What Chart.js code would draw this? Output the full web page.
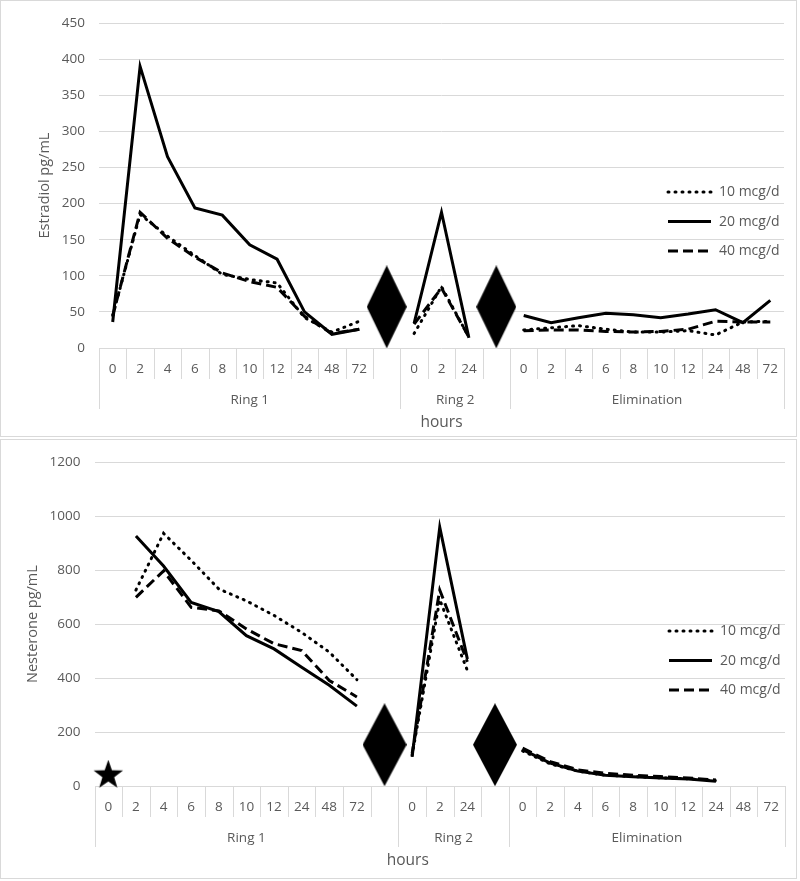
<!DOCTYPE html>
<html>
<head>
<meta charset="utf-8">
<script src="https://cdn.jsdelivr.net/npm/chart.js@4.4.1/dist/chart.umd.min.js"></script>
<style>
  body { margin: 0; background: #fff; }
  .panel { position: absolute; left: 0; width: 795px; border: 1px solid #d9d9d9; }
  #topPanel { top: 0; height: 435px; }
  #bottomPanel { top: 439px; height: 438px; }
  canvas { display: block; }
</style>
</head>
<body>
<div class="panel" id="topPanel"><canvas id="estradiol" width="795" height="435"></canvas></div>
<div class="panel" id="bottomPanel"><canvas id="nesterone" width="795" height="438"></canvas></div>
<script>
// categories: Ring 1, gap, Ring 2, gap, Elimination
const hourLabels = ['0', '2', '4', '6', '8', '10', '12', '24', '48', '72', '',
  '0', '2', '24', '',
  '0', '2', '4', '6', '8', '10', '12', '24', '48', '72']
const groups = [['Ring 1', 11], ['Ring 2', 4], ['Elimination', 10]]
const seriesNames = ['10 mcg/d', '20 mcg/d', '40 mcg/d']

// Estradiol pg/mL
const estradiol10 = [45, 185, 155, 128, 102, 95, 90, 42, 22, 37, null, 20, 85, 15, null, 25, 28, 31, 26, 22, 22, 24, 18, 36, 37]
const estradiol20 = [36, 390, 265, 194, 184, 143, 123, 50, 19, 26, null, 34, 188, 14, null, 45, 35, 42, 48, 46, 42, 47, 53, 35, 66]
const estradiol40 = [45, 188, 152, 126, 104, 92, 84, 44, 20, 26, null, 33, 83, 15, null, 24, 25, 25, 23, 22, 23, 26, 37, 36, 36]
const estradiolBreaks = [null, null, null, null, null, null, null, null, null, null, 57, null, null, null, 57, null, null, null, null, null, null, null, null, null, null]

// Nesterone pg/mL
const nesterone10 = [null, 726, 936, 836, 730, 686, 632, 569, 496, 394, null, 115, 690, 428, null, 130, 82, 55, 40, 35, 30, 27, 20, null, null]
const nesterone20 = [null, 926, 815, 680, 646, 557, 508, 440, 373, 296, null, 108, 959, 470, null, 135, 85, 55, 40, 34, 30, 26, 18, null, null]
const nesterone40 = [null, 699, 797, 662, 649, 582, 527, 502, 391, 330, null, 120, 726, 460, null, 140, 90, 60, 47, 40, 35, 30, 22, null, null]
const nesteroneBreaks = [null, null, null, null, null, null, null, null, null, null, 153, null, null, null, 153, null, null, null, null, null, null, null, null, null, null]
const nesteroneStar = [40, null, null, null, null, null, null, null, null, null, null, null, null, null, null, null, null, null, null, null, null, null, null, null, null]

Chart.defaults.font.family = '"Open Sans", sans-serif'
Chart.defaults.color = '#595959'

function diamondImage(w, h) {
  const c = document.createElement('canvas')
  c.width = w; c.height = h
  const g = c.getContext('2d')
  g.fillStyle = '#000'
  g.beginPath()
  g.moveTo(w / 2, 0); g.lineTo(w, h / 2); g.lineTo(w / 2, h); g.lineTo(0, h / 2)
  g.closePath(); g.fill()
  return c
}

function starImage(r) {
  const c = document.createElement('canvas')
  c.width = c.height = Math.ceil(r * 2)
  const g = c.getContext('2d')
  g.fillStyle = '#000'
  g.beginPath()
  for (let i = 0; i < 10; i++) {
    const rr = i % 2 ? r * 0.4 : r
    const ang = -Math.PI / 2 + i * Math.PI / 5
    g.lineTo(r + rr * Math.cos(ang), r + rr * Math.sin(ang))
  }
  g.closePath(); g.fill()
  return c
}

const lineStyles = [
  { borderDash: [1, 6], borderCapStyle: 'round' },
  { borderDash: [], borderCapStyle: 'butt' },
  { borderDash: [10, 5], borderCapStyle: 'butt' }
]

function series(i, data) {
  return Object.assign({
    label: seriesNames[i],
    data: data,
    borderColor: '#000',
    borderWidth: 3,
    pointRadius: 0,
    tension: 0,
    spanGaps: false,
    order: 3 - i
  }, lineStyles[i])
}

function marker(data, img) {
  return {
    marker: true,
    data: data,
    showLine: false,
    pointStyle: img,
    pointRadius: 10,
    order: 0,
    clip: false
  }
}

// multi-level category axis, axis title and line legend
const ringAxis = {
  id: 'ringAxis',
  afterDraw(chart, args, opts) {
    const { ctx, chartArea: a } = chart
    const n = chart.data.labels.length
    const step = (a.right - a.left) / n
    ctx.save()
    ctx.strokeStyle = '#d9d9d9'
    ctx.lineWidth = 1
    const edges = [0]
    let acc = 0
    groups.forEach(g => { acc += g[1]; edges.push(acc) })
    for (let i = 0; i <= n; i++) {
      const bx = Math.round(a.left + i * step) + 0.5
      const len = edges.includes(i) ? 61 : 31
      ctx.beginPath()
      ctx.moveTo(bx, a.bottom)
      ctx.lineTo(bx, a.bottom + len)
      ctx.stroke()
    }
    ctx.fillStyle = '#595959'
    ctx.textAlign = 'center'
    ctx.textBaseline = 'middle'
    ctx.font = '13.5px "Open Sans"'
    let start = 0
    groups.forEach(g => {
      ctx.fillText(g[0], a.left + (start + g[1] / 2) * step, a.bottom + 52)
      start += g[1]
    })
    ctx.font = '15.5px "Open Sans"'
    ctx.fillText('hours', (a.left + a.right) / 2 + opts.titleShift, a.bottom + 75)

    ctx.font = '14px "Open Sans"'
    ctx.textAlign = 'left'
    chart.data.datasets.filter(d => !d.marker).forEach((d, i) => {
      const y = a.top + 169 + i * 29.5
      const lx = a.right - 116
      ctx.strokeStyle = '#000'
      ctx.lineWidth = 3
      ctx.setLineDash(d.borderDash)
      ctx.lineCap = d.borderCapStyle
      ctx.beginPath()
      ctx.moveTo(lx, y)
      ctx.lineTo(lx + 43, y)
      ctx.stroke()
      ctx.setLineDash([])
      ctx.fillText(d.label, lx + 51, y)
    })
    ctx.restore()
  }
}

function makeChart(id, datasets, yTitle, yMax, yStep, dims) {
  return new Chart(id, {
    type: 'line',
    data: { labels: hourLabels, datasets: datasets },
    options: {
      responsive: false,
      animation: false,
      events: [],
      layout: { padding: { top: dims.top, right: dims.right, left: 0, bottom: 0 } },
      plugins: {
        legend: { display: false },
        tooltip: { enabled: false },
        ringAxis: { titleShift: dims.titleShift }
      },
      scales: {
        x: {
          type: 'category',
          offset: true,
          grid: { display: false, drawTicks: false },
          border: { display: false },
          ticks: { autoSkip: false, maxRotation: 0, padding: 13, font: { size: 13.5 }, color: '#595959' },
          afterFit: s => { s.height = dims.xHeight }
        },
        y: {
          min: 0,
          max: yMax,
          grid: { color: '#d9d9d9', lineWidth: 1, drawTicks: false },
          border: { display: false },
          ticks: { stepSize: yStep, padding: 14, font: { size: 13.5 }, color: '#595959', callback: v => String(v) },
          title: { display: true, text: yTitle, font: { size: 14.5 }, color: '#595959', padding: { top: dims.titlePad, bottom: 0 } },
          afterFit: s => { s.width = dims.yWidth }
        }
      }
    },
    plugins: [ringAxis]
  })
}

makeChart('estradiol', [
  series(0, estradiol10),
  series(1, estradiol20),
  series(2, estradiol40),
  marker(estradiolBreaks, diamondImage(40, 83))
], 'Estradiol pg/mL', 450, 50,
  { top: 20, right: 12, xHeight: 88, yWidth: 98, titlePad: 35.4, titleShift: 0 })

makeChart('nesterone', [
  series(0, nesterone10),
  series(1, nesterone20),
  series(2, nesterone40),
  marker(nesteroneBreaks, diamondImage(44, 83)),
  marker(nesteroneStar, starImage(15.5))
], 'Nesterone pg/mL', 1200, 200,
  { top: 21, right: 11, xHeight: 92, yWidth: 93.5, titlePad: 23.4, titleShift: -32 })
</script>
</body>
</html>
